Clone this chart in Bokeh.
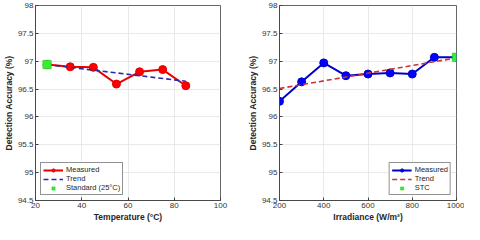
from bokeh.plotting import figure
from bokeh.layouts import row
from bokeh.models import Legend, LegendItem, FixedTicker, Range1d, NumeralTickFormatter
from bokeh.embed import file_html
from bokeh.resources import INLINE

# ---- data ----
temperature = [25, 35, 45, 55, 65, 75, 85]
temp_accuracy = [96.94, 96.90, 96.89, 96.59, 96.81, 96.85, 96.56]
temp_trend_x = [25, 85]
temp_trend_y = [96.94, 96.64]
standard_temp = [25]
standard_acc = [96.94]

irradiance = [200, 300, 400, 500, 600, 700, 800, 900, 1000]
irr_accuracy = [96.28, 96.63, 96.97, 96.74, 96.77, 96.79, 96.77, 97.07, 97.07]
irr_trend_x = [200, 1000]
irr_trend_y = [96.51, 97.06]
stc_irr = [1000]
stc_acc = [97.07]

temp_ticks = [20, 40, 60, 80, 100]
irr_ticks = [200, 400, 600, 800, 1000]
y_ticks = [94.5, 95, 95.5, 96, 96.5, 97, 97.5, 98]
y_tick_labels = ["94.5", "95", "95.5", "96", "96.5", "97", "97.5", "98"]

FONT = "Liberation Sans"
AX = "#404040"


def make_fig(width, bl, br, xr, xticks, xlabel):
    p = figure(width=width, height=224, output_backend="svg", toolbar_location=None,
               x_range=Range1d(xr[0], xr[1]), y_range=Range1d(94.5, 98),
               min_border_left=bl, min_border_right=br, min_border_top=5,
               min_border_bottom=0)
    p.outline_line_color = AX
    p.outline_line_width = 0.8
    p.xaxis.ticker = FixedTicker(ticks=xticks)
    p.yaxis.ticker = FixedTicker(ticks=y_ticks)
    p.yaxis.formatter = NumeralTickFormatter(format="0.[0]")
    p.yaxis.major_label_overrides = {float(t): l for t, l in zip(y_ticks, y_tick_labels)}
    for ax in (p.xaxis[0], p.yaxis[0]):
        ax.axis_line_color = AX
        ax.axis_line_width = 0.8
        ax.major_tick_in = 3
        ax.major_tick_out = 0
        ax.major_tick_line_color = AX
        ax.minor_tick_line_color = None
        ax.major_label_text_font = FONT
        ax.major_label_text_font_size = "8px"
        ax.major_label_text_color = "#333333"
        ax.major_label_standoff = 2
        ax.axis_label_text_font = FONT
        ax.axis_label_text_font_size = "8.5px"
        ax.axis_label_text_font_style = "bold"
        ax.axis_label_text_color = "#262626"
        ax.axis_label_standoff = 1
    p.xaxis.axis_label = xlabel
    p.yaxis.axis_label = "Detection Accuracy (%)"
    p.grid.grid_line_color = "#e3e3e3"
    p.grid.grid_line_width = 0.8
    p.xgrid.ticker = FixedTicker(ticks=xticks)
    p.ygrid.ticker = FixedTicker(ticks=y_ticks)
    return p


def add_legend(p, items, loc):
    leg = Legend(items=items, location=loc)
    leg.border_line_color = "#262626"
    leg.border_line_width = 0.8
    leg.background_fill_color = "white"
    leg.background_fill_alpha = 1
    leg.label_text_font = FONT
    leg.label_text_font_size = "7.5px"
    leg.label_text_color = "#262626"
    leg.glyph_width = 20
    leg.glyph_height = 8
    leg.label_height = 8
    leg.spacing = 0
    leg.padding = 2
    leg.margin = 5
    leg.label_standoff = 3
    p.add_layout(leg)
    return leg


# ---- left: temperature ----
p1 = make_fig(228, 30, 8, (20, 100), temp_ticks, "Temperature (°C)")
l1 = p1.line(temperature, temp_accuracy, line_color="#e60000", line_width=2)
c1 = p1.scatter(temperature, temp_accuracy, marker="circle", size=8,
                fill_color="#ff0000", line_color="#e60000")
t1 = p1.line(temp_trend_x, temp_trend_y, line_color="#2a2aa8", line_width=1.6,
             line_dash="5 3")
s1 = p1.scatter(standard_temp, standard_acc, marker="square", size=8.5,
                fill_color="#33ee33", line_color="#22cc22", line_width=0.5)
add_legend(p1, [LegendItem(label="Measured", renderers=[l1, c1]),
                LegendItem(label="Trend", renderers=[t1]),
                LegendItem(label="Standard (25°C)", renderers=[s1])], "bottom_left")

# ---- right: irradiance ----
p2 = make_fig(236, 51, 8, (200, 1000), irr_ticks, "Irradiance (W/m²)")
l2 = p2.line(irradiance, irr_accuracy, line_color="#0000c8", line_width=2)
c2 = p2.scatter(irradiance, irr_accuracy, marker="circle", size=8,
                fill_color="#0000ff", line_color="#0000c8")
t2 = p2.line(irr_trend_x, irr_trend_y, line_color="#cc3333", line_width=1.6,
             line_dash="5 3")
s2 = p2.scatter(stc_irr, stc_acc, marker="square", size=8.5,
                fill_color="#33ee33", line_color="#22cc22", line_width=0.5)
add_legend(p2, [LegendItem(label="Measured", renderers=[l2, c2]),
                LegendItem(label="Trend", renderers=[t2]),
                LegendItem(label="STC", renderers=[s2])], "bottom_right")

layout = row(p1, p2)
open("out.html", "w").write(file_html(layout, INLINE))
